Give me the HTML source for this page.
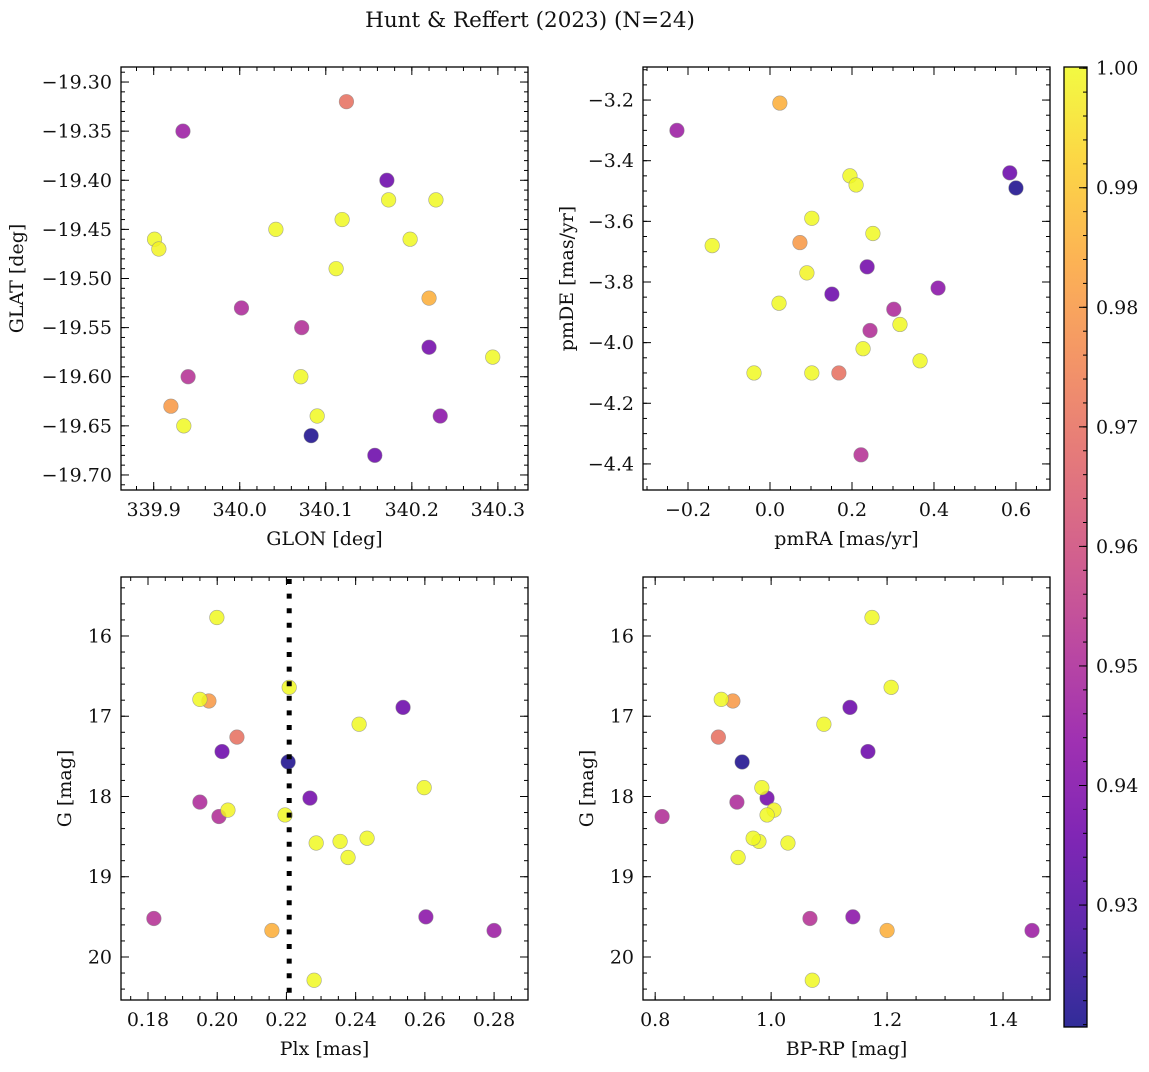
<!DOCTYPE html>
<html><head><meta charset="utf-8"><style>
body{margin:0;background:#fff;}
svg text{font-family:"DejaVu Serif","Liberation Serif",serif;fill:#111;}
</style></head><body>
<svg id="fig" width="1149" height="1067" viewBox="0 0 1149 1067" xmlns="http://www.w3.org/2000/svg">
<text x="530" y="27" font-size="21.5" text-anchor="middle">Hunt &amp; Reffert (2023) (N=24)</text>
</svg>
<script>
const plx  =[0.2057,0.1976,0.2158,0.2205,0.2537,0.2014,0.2268,0.2603,0.2800,0.1950,0.2005,0.1817,0.1999,0.1950,0.2208,0.2410,0.2598,0.2031,0.2196,0.2286,0.2355,0.2433,0.2378,0.2280];
const gmag =[17.26,16.81,19.67,17.57,16.89,17.44,18.02,19.50,19.67,18.07,18.25,19.52,15.77,16.79,16.64,17.10,17.89,18.17,18.23,18.58,18.56,18.52,18.76,20.29];
const bprp =[0.909,0.934,1.200,0.950,1.136,1.167,0.993,1.141,1.450,0.941,0.812,1.067,1.174,0.914,1.207,1.091,0.984,1.005,0.993,1.029,0.979,0.969,0.943,1.071];
const prob =[0.970,0.980,0.985,0.921,0.935,0.935,0.937,0.942,0.946,0.950,0.951,0.952,1.0,1.0,1.0,1.0,1.0,0.999,1.0,1.0,1.0,1.0,1.0,1.0];
const glon =[340.124,339.920,340.220,340.083,340.171,340.157,340.220,340.233,339.934,340.002,340.072,339.940,340.173,340.228,340.119,340.042,339.901,339.906,340.198,340.112,340.294,340.071,340.090,339.935];
const glat =[-19.32,-19.63,-19.52,-19.66,-19.40,-19.68,-19.57,-19.64,-19.35,-19.53,-19.55,-19.60,-19.42,-19.42,-19.44,-19.45,-19.46,-19.47,-19.46,-19.49,-19.58,-19.60,-19.64,-19.65];
const pmra =[0.168,0.073,0.024,0.600,0.585,0.151,0.237,0.410,-0.227,0.302,0.244,0.222,0.195,0.210,0.102,-0.141,0.251,0.090,0.022,0.317,0.227,0.366,-0.039,0.102];
const pmde =[-4.10,-3.67,-3.21,-3.49,-3.44,-3.84,-3.75,-3.82,-3.30,-3.89,-3.96,-4.37,-3.45,-3.48,-3.59,-3.68,-3.64,-3.77,-3.87,-3.94,-4.02,-4.06,-4.10,-4.10];
const plxLine = 0.2208;
const cbTicks = [0.93,0.94,0.95,0.96,0.97,0.98,0.99,1.00];

const svg=document.getElementById('fig');
const NS='http://www.w3.org/2000/svg';
function el(tag,attrs,parent){const e=document.createElementNS(NS,tag);for(const k in attrs)e.setAttribute(k,attrs[k]);(parent||svg).appendChild(e);return e;}
const stops=['#0d0887','#41049d','#6a00a8','#8f0da4','#b12a90','#cc4778','#e16462','#f2844b','#fca636','#fcce25','#f0f921'];
function hex(h){return [1,3,5].map(i=>parseInt(h.substr(i,2),16));}
function plasma(t){t=Math.max(0,Math.min(1,t));const f=t*10,i=Math.min(9,Math.floor(f)),r=f-i;const a=hex(stops[i]),b=hex(stops[i+1]);return 'rgb('+a.map((v,k)=>Math.round(v+(b[k]-v)*r)).join(',')+')';}
const vmin=0.9198,vmax=1.0001;
function cmap(p){return plasma((p-vmin)/(vmax-vmin));}
const FS=19;

function axes(cfg){
  const {x0,y0,w,h,xmin,xmax,ymin,ymax,yinv,xt,xminor,yt,yminor,xfmt,yfmt,xlabel,ylabel,xs,ys,name,ylabx}=cfg;
  const g=el('g',{},svg);
  
  
  const X=v=>x0+(v-xmin)/(xmax-xmin)*w;
  const Y=v=>yinv? y0+(v-ymin)/(ymax-ymin)*h : y0+h-(v-ymin)/(ymax-ymin)*h;
  const cp='clip-'+name;
  const cpe=el('clipPath',{id:cp},g);el('rect',{x:x0,y:y0,width:w,height:h},cpe);
  const pts=el('g',{'clip-path':'url(#'+cp+')'},g);
  for(let i=0;i<xs.length;i++){
    const c=el('circle',{cx:X(xs[i]),cy:Y(ys[i]),r:7.3,fill:cmap(prob[i]),'fill-opacity':0.85,stroke:'#888','stroke-width':0.6,'stroke-opacity':0.7},pts);
    
    
  }
  if(cfg.vline!==undefined){
    const l=el('line',{x1:X(cfg.vline),x2:X(cfg.vline),y1:y0+2,y2:y0+h,stroke:'#000','stroke-width':5,'stroke-dasharray':'5 9.6'},pts);
    
    
  }
  el('rect',{x:x0,y:y0,width:w,height:h,fill:'none',stroke:'#000','stroke-width':1.3},g);
  const tk={stroke:'#000','stroke-width':1};
  for(const v of xminor){const x=X(v);if(x<x0||x>x0+w)continue;el('line',Object.assign({x1:x,x2:x,y1:y0+h,y2:y0+h-4},tk),g);el('line',Object.assign({x1:x,x2:x,y1:y0,y2:y0+4},tk),g);}
  for(const v of yminor){const y=Y(v);if(y<y0||y>y0+h)continue;el('line',Object.assign({x1:x0,x2:x0+4,y1:y,y2:y},tk),g);el('line',Object.assign({x1:x0+w,x2:x0+w-4,y1:y,y2:y},tk),g);}
  for(const v of xt){const x=X(v);el('line',Object.assign({x1:x,x2:x,y1:y0+h,y2:y0+h-8},tk),g);el('line',Object.assign({x1:x,x2:x,y1:y0,y2:y0+8},tk),g);
    const t=el('text',{x:x,y:y0+h+26,'font-size':FS,'text-anchor':'middle'},g);t.textContent=xfmt(v);
    }
  for(const v of yt){const y=Y(v);el('line',Object.assign({x1:x0,x2:x0+8,y1:y,y2:y},tk),g);el('line',Object.assign({x1:x0+w,x2:x0+w-8,y1:y,y2:y},tk),g);
    const t=el('text',{x:x0-9,y:y+6.5,'font-size':FS,'text-anchor':'end'},g);t.textContent=yfmt(v);
    }
  const xl=el('text',{x:x0+w/2,y:y0+h+55,'font-size':FS,'text-anchor':'middle'},g);xl.textContent=xlabel;
  
  const yl=el('text',{x:0,y:0,'font-size':FS,'text-anchor':'middle',transform:`translate(${ylabx},${y0+h/2}) rotate(-90)`},g);yl.textContent=ylabel;
  
}
function rng(a,b,s){const r=[];for(let v=a;v<=b+1e-9;v+=s)r.push(Math.round(v/s)*s);return r;}
const minus=s=>s.replace('-','\u2212');

axes({name:'glon-glat-panel',x0:121,y0:67,w:407,h:423,xmin:339.862,xmax:340.335,ymin:-19.7153,ymax:-19.2847,
  xt:rng(339.9,340.3,0.1),xminor:rng(339.86,340.34,0.02),yt:rng(-19.70,-19.30,0.05),yminor:rng(-19.72,-19.28,0.01),
  xfmt:v=>v.toFixed(1),yfmt:v=>minus(v.toFixed(2)),xlabel:'GLON [deg]',ylabel:'GLAT [deg]',xs:glon,ys:glat,ylabx:23});
axes({name:'proper-motion-panel',x0:643,y0:67,w:407,h:423,xmin:-0.3098,xmax:0.683,ymin:-4.486,ymax:-3.091,
  xt:rng(-0.2,0.6,0.2),xminor:rng(-0.3,0.68,0.05),yt:rng(-4.4,-3.2,0.2),yminor:rng(-4.5,-3.1,0.05),
  xfmt:v=>minus(v.toFixed(1)),yfmt:v=>minus(v.toFixed(1)),xlabel:'pmRA [mas/yr]',ylabel:'pmDE [mas/yr]',xs:pmra,ys:pmde,ylabx:573});
axes({name:'parallax-magnitude-panel',x0:121,y0:577,w:407,h:423,xmin:0.1722,xmax:0.2898,ymin:15.265,ymax:20.536,yinv:true,
  xt:rng(0.18,0.28,0.02),xminor:rng(0.172,0.29,0.005),yt:rng(16,20,1),yminor:rng(15.4,20.6,0.2),
  xfmt:v=>v.toFixed(2),yfmt:v=>v.toFixed(0),xlabel:'Plx [mas]',ylabel:'G [mag]',xs:plx,ys:gmag,ylabx:71,vline:plxLine});
axes({name:'color-magnitude-panel',x0:643,y0:577,w:407,h:423,xmin:0.779,xmax:1.481,ymin:15.265,ymax:20.536,yinv:true,
  xt:rng(0.8,1.4,0.2),xminor:rng(0.8,1.48,0.05),yt:rng(16,20,1),yminor:rng(15.4,20.6,0.2),
  xfmt:v=>v.toFixed(1),yfmt:v=>v.toFixed(0),xlabel:'BP-RP [mag]',ylabel:'G [mag]',xs:bprp,ys:gmag,ylabx:593});

// colorbar
const cb=el('g',{},svg);


const defs=el('defs',{},svg);
const lg=el('linearGradient',{id:'cbg',x1:0,y1:1,x2:0,y2:0},defs);
for(let i=0;i<=20;i++){el('stop',{offset:i/20,'stop-color':plasma(i/20)},lg);}
const cx0=1064,cy0=67,cw=23,ch=960;
const CY=v=>cy0+ch-(v-vmin)/(vmax-vmin)*ch;
el('rect',{x:cx0,y:cy0,width:cw,height:ch,fill:'url(#cbg)','fill-opacity':0.85},cb);
el('rect',{x:cx0,y:cy0,width:cw,height:ch,fill:'none',stroke:'#000','stroke-width':1.3},cb);
for(const v of rng(0.920,1.0,0.002)){const y=CY(v);el('line',{x1:cx0+cw,x2:cx0+cw-4,y1:y,y2:y,stroke:'#000'},cb);}
for(const v of cbTicks){const y=CY(v);el('line',{x1:cx0+cw,x2:cx0+cw-8,y1:y,y2:y,stroke:'#000'},cb);
  const t=el('text',{x:1096,y:y+6.5,'font-size':FS},cb);t.textContent=v.toFixed(2);
  }
</script>
</body></html>
